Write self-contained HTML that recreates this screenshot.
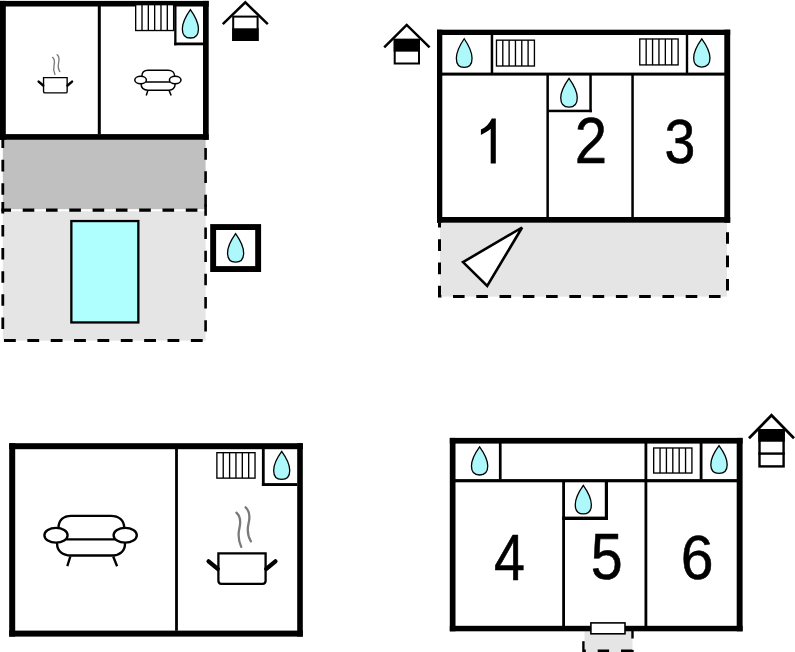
<!DOCTYPE html>
<html><head><meta charset="utf-8"><title>Floor plan</title>
<style>html,body{margin:0;padding:0;background:#fff;}body{width:795px;height:652px;overflow:hidden;font-family:"Liberation Sans",sans-serif;}svg{display:block;}</style>
</head><body>
<svg width="795" height="652" viewBox="0 0 795 652">
<rect width="795" height="652" fill="#fff"/>
<rect x="2.8" y="139.8" width="202.8" height="69.4" fill="#c0c0c0"/>
<rect x="2.8" y="211.2" width="202.8" height="129.4" fill="#e5e5e5"/>
<rect x="71.35" y="221.05" width="67" height="101.4" fill="#b0ffff" stroke="#000" stroke-width="2.3"/>
<line x1="2.8" y1="136" x2="2.8" y2="200" stroke="#000" stroke-width="2.8" stroke-dasharray="11.6 11.8" stroke-dashoffset="23"/>
<line x1="2.8" y1="200" x2="2.8" y2="332" stroke="#000" stroke-width="2.8" stroke-dasharray="11.5 11.6" stroke-dashoffset="21.2"/>
<line x1="205.6" y1="139.8" x2="205.6" y2="208" stroke="#000" stroke-width="2.6" stroke-dasharray="11.8 11.6" stroke-dashoffset="15.3"/>
<line x1="205.6" y1="204" x2="205.6" y2="334" stroke="#000" stroke-width="2.6" stroke-dasharray="11.4 11.75" stroke-dashoffset="22.75"/>
<line x1="1.4" y1="210.1" x2="203" y2="210.1" stroke="#000" stroke-width="3.1" stroke-dasharray="11.6 11.7" stroke-dashoffset="2"/>
<line x1="2" y1="340.6" x2="205" y2="340.6" stroke="#000" stroke-width="3" stroke-dasharray="11.8 11.56" stroke-dashoffset="21.36"/>
<rect x="0" y="0.9" width="208.7" height="5.6" fill="#000"/>
<rect x="0" y="0.9" width="5.8" height="138.9" fill="#000"/>
<rect x="203" y="0.9" width="5.7" height="138.9" fill="#000"/>
<rect x="0" y="134.1" width="208.7" height="5.7" fill="#000"/>
<rect x="97.8" y="6" width="3" height="128.2" fill="#000"/>
<rect x="174.2" y="6" width="2.3" height="39.3" fill="#000"/>
<rect x="174.2" y="42.5" width="28.8" height="2.8" fill="#000"/>
<rect x="135.68" y="4.67" width="37.95" height="25.85" fill="#fff" stroke="#000" stroke-width="1.35"/>
<line x1="142" y1="4.67" x2="142" y2="30.52" stroke="#000" stroke-width="1.35" stroke-linecap="butt"/>
<line x1="148.33" y1="4.67" x2="148.33" y2="30.52" stroke="#000" stroke-width="1.35" stroke-linecap="butt"/>
<line x1="154.65" y1="4.67" x2="154.65" y2="30.52" stroke="#000" stroke-width="1.35" stroke-linecap="butt"/>
<line x1="160.98" y1="4.67" x2="160.98" y2="30.52" stroke="#000" stroke-width="1.35" stroke-linecap="butt"/>
<line x1="167.3" y1="4.67" x2="167.3" y2="30.52" stroke="#000" stroke-width="1.35" stroke-linecap="butt"/>
<path d="M190.4,9.55 C194.83,15.82 198.45,21.51 198.45,28.9 C198.45,35.16 194.91,38.01 190.4,38.01 C185.89,38.01 182.35,35.16 182.35,28.9 C182.35,21.51 185.97,15.82 190.4,9.55 Z" fill="#adf8fb" stroke="#000" stroke-width="1.3" stroke-linejoin="miter"/>
<g transform="translate(55.35,77.65) scale(0.5)" fill="none" stroke="#000"><path d="M-23.6,0 L23.6,0 L23.6,27.5 Q23.6,30.5 20.6,30.5 L-20.6,30.5 Q-23.6,30.5 -23.6,27.5 Z" fill="#fff" stroke-width="2.7"/><path d="M-33.4,8.0 L-24.3,15.6 M24.3,15.6 L33.4,8.0" stroke-width="5" stroke-linecap="round"/><path d="M-5.6,-40.6 C-1.5,-37 -1.2,-31 -2.6,-25 C-4,-19 -3.3,-12 -0.8,-6.4 M3.6,-46 C7.6,-42.4 8,-36 6.6,-30 C5.2,-24 5.8,-17 8.9,-12" stroke="#7a7a7a" stroke-width="2.7" stroke-linecap="round"/></g>
<g transform="translate(157.9,80) scale(0.5)" fill="none" stroke="#000" stroke-width="3" stroke-linecap="round"><path d="M-32.1,-7.3 C-32.1,-15 -27,-19.4 -19.6,-19.4 L20.4,-19.4 C28,-19.4 33.6,-15 33.6,-7.3"/><path d="M-23.5,4.1 L23.7,4.1"/><path d="M-33.5,8.6 C-33.5,16 -28,20.3 -19.6,20.3 L21.9,20.3 C29,20.3 34.4,16 34.4,8.6"/><path d="M-20.3,21.3 L-23.3,31" stroke-linecap="butt"/><path d="M22.6,21.3 L26.5,31" stroke-linecap="butt"/><ellipse cx="-34.6" cy="0" rx="11.6" ry="7.4" fill="#fff"/><ellipse cx="34.6" cy="0" rx="11.6" ry="7.4" fill="#fff"/></g>
<rect x="213.15" y="227.05" width="45" height="42" fill="#fff" stroke="#000" stroke-width="5.9"/>
<path d="M235.6,233.66 C240.03,239.92 243.65,245.61 243.65,253 C243.65,259.26 240.11,262.11 235.6,262.11 C231.09,262.11 227.55,259.26 227.55,253 C227.55,245.61 231.17,239.92 235.6,233.66 Z" fill="#adf8fb" stroke="#000" stroke-width="1.3" stroke-linejoin="miter"/>
<polyline points="222.8,24.1 245.3,2.3 267.8,24.1" fill="none" stroke="#000" stroke-width="2.5" stroke-linejoin="miter"/>
<rect x="233.2" y="16.6" width="24.4" height="23.4" fill="#fff" stroke="#000" stroke-width="2"/>
<rect x="232.2" y="28.3" width="26.4" height="12.7" fill="#000"/>
<rect x="440" y="222.7" width="287" height="73.9" fill="#e5e5e5"/>
<line x1="439.5" y1="222.7" x2="439.5" y2="298" stroke="#000" stroke-width="3" stroke-dasharray="11.7 11.6" stroke-dashoffset="6.8"/>
<line x1="727.5" y1="222.7" x2="727.5" y2="298" stroke="#000" stroke-width="3" stroke-dasharray="11.6 11.8" stroke-dashoffset="13.9"/>
<line x1="441" y1="296.6" x2="729" y2="296.6" stroke="#000" stroke-width="3" stroke-dasharray="11.6 11.67" stroke-dashoffset="11.27"/>
<polygon points="463.0,262.1 522.1,227.5 487.2,286.0" fill="#fff" stroke="#000" stroke-width="2.6" stroke-linejoin="miter"/>
<rect x="437" y="29.7" width="293.2" height="5.3" fill="#000"/>
<rect x="437" y="29.7" width="5.3" height="193" fill="#000"/>
<rect x="724.3" y="29.7" width="5.9" height="193" fill="#000"/>
<rect x="437" y="217" width="293.2" height="5.7" fill="#000"/>
<rect x="442" y="72.6" width="283" height="3" fill="#000"/>
<rect x="490.7" y="35" width="2.5" height="38" fill="#000"/>
<rect x="685.8" y="35" width="2.4" height="38" fill="#000"/>
<rect x="546.4" y="75" width="2.5" height="142.2" fill="#000"/>
<rect x="631.3" y="75" width="2.5" height="142.2" fill="#000"/>
<rect x="589.3" y="75" width="2.5" height="37.2" fill="#000"/>
<rect x="547" y="109.7" width="44.8" height="2.5" fill="#000"/>
<rect x="496.48" y="40.17" width="37.95" height="25.85" fill="#fff" stroke="#000" stroke-width="1.35"/>
<line x1="502.8" y1="40.17" x2="502.8" y2="66.03" stroke="#000" stroke-width="1.35" stroke-linecap="butt"/>
<line x1="509.12" y1="40.17" x2="509.12" y2="66.03" stroke="#000" stroke-width="1.35" stroke-linecap="butt"/>
<line x1="515.45" y1="40.17" x2="515.45" y2="66.03" stroke="#000" stroke-width="1.35" stroke-linecap="butt"/>
<line x1="521.77" y1="40.17" x2="521.77" y2="66.03" stroke="#000" stroke-width="1.35" stroke-linecap="butt"/>
<line x1="528.1" y1="40.17" x2="528.1" y2="66.03" stroke="#000" stroke-width="1.35" stroke-linecap="butt"/>
<rect x="639.77" y="38.97" width="38.35" height="25.95" fill="#fff" stroke="#000" stroke-width="1.35"/>
<line x1="646.17" y1="38.97" x2="646.17" y2="64.92" stroke="#000" stroke-width="1.35" stroke-linecap="butt"/>
<line x1="652.56" y1="38.97" x2="652.56" y2="64.92" stroke="#000" stroke-width="1.35" stroke-linecap="butt"/>
<line x1="658.95" y1="38.97" x2="658.95" y2="64.92" stroke="#000" stroke-width="1.35" stroke-linecap="butt"/>
<line x1="665.34" y1="38.97" x2="665.34" y2="64.92" stroke="#000" stroke-width="1.35" stroke-linecap="butt"/>
<line x1="671.73" y1="38.97" x2="671.73" y2="64.92" stroke="#000" stroke-width="1.35" stroke-linecap="butt"/>
<path d="M464.2,38.75 C468.52,45.06 472.05,50.79 472.05,58.24 C472.05,64.54 468.6,67.41 464.2,67.41 C459.8,67.41 456.35,64.54 456.35,58.24 C456.35,50.79 459.88,45.06 464.2,38.75 Z" fill="#adf8fb" stroke="#000" stroke-width="1.3" stroke-linejoin="miter"/>
<path d="M569,78.45 C573.54,84.76 577.25,90.49 577.25,97.94 C577.25,104.24 573.62,107.11 569,107.11 C564.38,107.11 560.75,104.24 560.75,97.94 C560.75,90.49 564.46,84.76 569,78.45 Z" fill="#adf8fb" stroke="#000" stroke-width="1.3" stroke-linejoin="miter"/>
<path d="M701.8,38.95 C706.28,45.15 709.95,50.78 709.95,58.1 C709.95,64.29 706.36,67.11 701.8,67.11 C697.24,67.11 693.65,64.29 693.65,58.1 C693.65,50.78 697.32,45.15 701.8,38.95 Z" fill="#adf8fb" stroke="#000" stroke-width="1.3" stroke-linejoin="miter"/>
<path d="M490.7,163.4 L495.8,163.4 L495.8,118.5 L491.8,118.5 C489.5,123.5 485.5,127.5 480.9,129.6 L480.9,134.9 C484.5,133.4 488.2,131 490.7,128.8 Z" fill="#000"/>
<text transform="translate(574.87,163.4) scale(0.9046,1)" font-size="64.30" font-family="Liberation Sans" fill="#000" stroke="#000" stroke-width="0.55">2</text>
<text transform="translate(664.39,163.28) scale(0.8708,1)" font-size="63.70" font-family="Liberation Sans" fill="#000" stroke="#000" stroke-width="0.55">3</text>
<polyline points="384.2,47.4 406.7,24.9 429.6,47.4" fill="none" stroke="#000" stroke-width="2.5" stroke-linejoin="miter"/>
<rect x="394.7" y="39.8" width="24.3" height="23.7" fill="#fff" stroke="#000" stroke-width="2"/>
<rect x="393.7" y="38.8" width="26.3" height="12.85" fill="#000"/>
<rect x="9.2" y="443.2" width="293.6" height="6" fill="#000"/>
<rect x="9.2" y="443.2" width="6" height="193.4" fill="#000"/>
<rect x="297.2" y="443.2" width="5.6" height="193.4" fill="#000"/>
<rect x="9.2" y="630.6" width="293.6" height="6" fill="#000"/>
<rect x="175.1" y="449" width="2.8" height="181.8" fill="#000"/>
<rect x="261.9" y="449" width="2.8" height="37" fill="#000"/>
<rect x="261.9" y="483.1" width="35.4" height="2.9" fill="#000"/>
<rect x="216.88" y="452.68" width="38.15" height="25.45" fill="#fff" stroke="#000" stroke-width="1.35"/>
<line x1="223.23" y1="452.68" x2="223.23" y2="478.12" stroke="#000" stroke-width="1.35" stroke-linecap="butt"/>
<line x1="229.59" y1="452.68" x2="229.59" y2="478.12" stroke="#000" stroke-width="1.35" stroke-linecap="butt"/>
<line x1="235.95" y1="452.68" x2="235.95" y2="478.12" stroke="#000" stroke-width="1.35" stroke-linecap="butt"/>
<line x1="242.31" y1="452.68" x2="242.31" y2="478.12" stroke="#000" stroke-width="1.35" stroke-linecap="butt"/>
<line x1="248.67" y1="452.68" x2="248.67" y2="478.12" stroke="#000" stroke-width="1.35" stroke-linecap="butt"/>
<path d="M281.7,451.45 C286.13,457.58 289.75,463.15 289.75,470.4 C289.75,476.52 286.21,479.31 281.7,479.31 C277.19,479.31 273.65,476.52 273.65,470.4 C273.65,463.15 277.27,457.58 281.7,451.45 Z" fill="#adf8fb" stroke="#000" stroke-width="1.3" stroke-linejoin="miter"/>
<g transform="translate(242,553.3) scale(1.0)" fill="none" stroke="#000"><path d="M-23.6,0 L23.6,0 L23.6,27.5 Q23.6,30.5 20.6,30.5 L-20.6,30.5 Q-23.6,30.5 -23.6,27.5 Z" fill="#fff" stroke-width="2.3"/><path d="M-33.4,8.0 L-24.3,15.6 M24.3,15.6 L33.4,8.0" stroke-width="4.25" stroke-linecap="round"/><path d="M-5.6,-40.6 C-1.5,-37 -1.2,-31 -2.6,-25 C-4,-19 -3.3,-12 -0.8,-6.4 M3.6,-46 C7.6,-42.4 8,-36 6.6,-30 C5.2,-24 5.8,-17 8.9,-12" stroke="#7a7a7a" stroke-width="2.3" stroke-linecap="round"/></g>
<g transform="translate(90.6,535.2) scale(1.0)" fill="none" stroke="#000" stroke-width="2.35" stroke-linecap="round"><path d="M-32.1,-7.3 C-32.1,-15 -27,-19.4 -19.6,-19.4 L20.4,-19.4 C28,-19.4 33.6,-15 33.6,-7.3"/><path d="M-23.5,4.1 L23.7,4.1"/><path d="M-33.5,8.6 C-33.5,16 -28,20.3 -19.6,20.3 L21.9,20.3 C29,20.3 34.4,16 34.4,8.6"/><path d="M-20.3,21.3 L-23.3,31" stroke-linecap="butt"/><path d="M22.6,21.3 L26.5,31" stroke-linecap="butt"/><ellipse cx="-34.6" cy="0" rx="11.6" ry="7.4" fill="#fff"/><ellipse cx="34.6" cy="0" rx="11.6" ry="7.4" fill="#fff"/></g>
<rect x="584.5" y="631.2" width="48" height="20.8" fill="#e5e5e5"/>
<line x1="583.4" y1="630" x2="583.4" y2="652" stroke="#000" stroke-width="2.4" stroke-dasharray="11.6 11.7" stroke-dashoffset="12.1"/>
<line x1="632.5" y1="630" x2="632.5" y2="652" stroke="#000" stroke-width="2.4" stroke-dasharray="11.6 11.7" stroke-dashoffset="3.2"/>
<line x1="583" y1="651" x2="634" y2="651" stroke="#000" stroke-width="3" stroke-dasharray="11.4 11.9" stroke-dashoffset="8.6"/>
<rect x="449.8" y="437.9" width="292.8" height="5.7" fill="#000"/>
<rect x="449.8" y="437.9" width="5.7" height="193.4" fill="#000"/>
<rect x="736.7" y="437.9" width="5.9" height="193.4" fill="#000"/>
<rect x="449.8" y="625.8" width="292.8" height="5.5" fill="#000"/>
<rect x="455" y="479.1" width="282" height="3.2" fill="#000"/>
<rect x="498.9" y="443" width="2.7" height="36.5" fill="#000"/>
<rect x="644.5" y="443" width="2.8" height="183" fill="#000"/>
<rect x="699.7" y="443" width="2.8" height="36.5" fill="#000"/>
<rect x="562.2" y="482" width="2.8" height="144" fill="#000"/>
<rect x="604.8" y="482" width="3.2" height="38" fill="#000"/>
<rect x="562.2" y="516.6" width="45.8" height="3.4" fill="#000"/>
<rect x="653.67" y="447.98" width="38.25" height="25.05" fill="#fff" stroke="#000" stroke-width="1.35"/>
<line x1="660.05" y1="447.98" x2="660.05" y2="473.02" stroke="#000" stroke-width="1.35" stroke-linecap="butt"/>
<line x1="666.42" y1="447.98" x2="666.42" y2="473.02" stroke="#000" stroke-width="1.35" stroke-linecap="butt"/>
<line x1="672.8" y1="447.98" x2="672.8" y2="473.02" stroke="#000" stroke-width="1.35" stroke-linecap="butt"/>
<line x1="679.17" y1="447.98" x2="679.17" y2="473.02" stroke="#000" stroke-width="1.35" stroke-linecap="butt"/>
<line x1="685.55" y1="447.98" x2="685.55" y2="473.02" stroke="#000" stroke-width="1.35" stroke-linecap="butt"/>
<path d="M479.6,446.85 C484.08,453.05 487.75,458.68 487.75,466 C487.75,472.19 484.16,475.01 479.6,475.01 C475.04,475.01 471.45,472.19 471.45,466 C471.45,458.68 475.12,453.05 479.6,446.85 Z" fill="#adf8fb" stroke="#000" stroke-width="1.3" stroke-linejoin="miter"/>
<path d="M583.3,485.35 C587.73,491.64 591.35,497.35 591.35,504.77 C591.35,511.05 587.81,513.91 583.3,513.91 C578.79,513.91 575.25,511.05 575.25,504.77 C575.25,497.35 578.87,491.64 583.3,485.35 Z" fill="#adf8fb" stroke="#000" stroke-width="1.3" stroke-linejoin="miter"/>
<path d="M719,445.56 C723.51,451.66 727.2,457.21 727.2,464.43 C727.2,470.53 723.59,473.31 719,473.31 C714.41,473.31 710.8,470.53 710.8,464.43 C710.8,457.21 714.49,451.66 719,445.56 Z" fill="#adf8fb" stroke="#000" stroke-width="1.3" stroke-linejoin="miter"/>
<text transform="translate(493.92,579.8) scale(0.8476,1)" font-size="65.55" font-family="Liberation Sans" fill="#000" stroke="#000" stroke-width="0.55">4</text>
<text transform="translate(590.8,579.37) scale(0.8955,1)" font-size="64.06" font-family="Liberation Sans" fill="#000" stroke="#000" stroke-width="0.55">5</text>
<text transform="translate(680.71,579.38) scale(0.9358,1)" font-size="62.99" font-family="Liberation Sans" fill="#000" stroke="#000" stroke-width="0.55">6</text>
<rect x="590.9" y="622.9" width="34.1" height="10.9" fill="#fff" stroke="#000" stroke-width="1.6"/>
<polyline points="749,438.3 771.5,415.3 794,438.3" fill="none" stroke="#000" stroke-width="2.7" stroke-linejoin="miter"/>
<rect x="759.5" y="430.2" width="24.1" height="36.2" fill="#fff" stroke="#000" stroke-width="2.4"/>
<rect x="758.3" y="429" width="26.5" height="12.74" fill="#000"/>
<line x1="758.3" y1="453.59" x2="784.8" y2="453.59" stroke="#000" stroke-width="2.4" stroke-linecap="butt"/>
</svg>
</body></html>
